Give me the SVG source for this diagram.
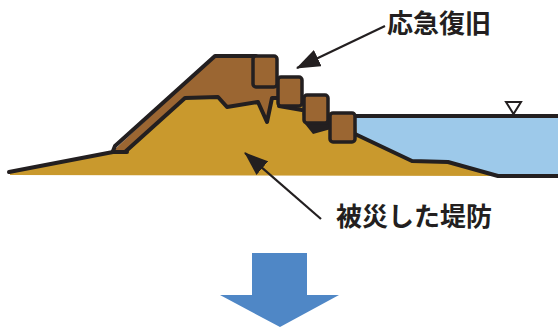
<svg xmlns="http://www.w3.org/2000/svg" width="558" height="329" viewBox="0 0 558 329">
  <style>
    .line { fill: none; stroke: #231F20; stroke-width: 4; stroke-linejoin: round; stroke-linecap: round; }
    .block { fill: #9B6632; stroke: #231F20; stroke-width: 3.5; }
    .label { font-family: "Noto Sans CJK JP", "Noto Sans", sans-serif; font-weight: bold; font-size: 26px; fill: #231F20; }
    .pointer { stroke: #231F20; stroke-width: 2.2; fill: none; }
  </style>
  <defs>
    <marker id="head" viewBox="0 0 24 18" refX="23" refY="9" markerWidth="24" markerHeight="18" markerUnits="userSpaceOnUse" orient="auto">
      <path d="M0,0 L24,9 L0,18 z" fill="#231F20"/>
    </marker>
  </defs>
  <rect width="558" height="329" fill="#FFFFFF"/>

  <!-- river water -->
  <g id="water">
    <polygon points="355,116 558,116 558,176 498,176 448,162 412,161 357,134" fill="#9DC9EA"/>
    <path class="line" d="M355,116 L558,116"/>
    <polygon points="506,102 521,102 513.5,114" fill="#FFFFFF" stroke="#231F20" stroke-width="2"/>
  </g>

  <!-- damaged levee body -->
  <g id="levee">
    <polygon points="10,173 113,152 215,56 278,56 278,77 302,77 302,95 328,95 328,112 355,112 357,134 412,161 448,162 498,176 10,175" fill="#C9992D"/>
    <polygon points="114,150 215,56 253,56 253,87 279,87 279,98 272,98 267,122 258,102 227,107 218,97 185,98 127,152" fill="#9B6632"/>
    <polygon points="301,108 305,124 313,134 331,129 331,118 304,118" fill="#231F20"/>
    <path class="line" d="M9,172 L113,152 L127,152"/>
    <path class="line" d="M113,151 L115,146 L215,56 L256,56"/>
    <path class="line" d="M125,152 L185,98 L218,97 L227,107 L258,102 L267,122 L272,98 L280,98"/>
    <path class="line" d="M279,106 L302,110"/>
    <path class="line" d="M355,134 L412,161 L448,162 L498,176 L558,176"/>
  </g>

  <!-- emergency repair blocks -->
  <g id="blocks">
    <rect class="block" x="253" y="56" width="24" height="31" rx="3"/>
    <rect class="block" x="278" y="77" width="24" height="29" rx="3"/>
    <rect class="block" x="304" y="95" width="24" height="28" rx="3"/>
    <rect class="block" x="330" y="113" width="25" height="29" rx="3"/>
  </g>

  <!-- callouts -->
  <g id="connectors">
    <line class="pointer" x1="385" y1="26" x2="297" y2="68" marker-end="url(#head)"/>
    <line class="pointer" x1="321" y1="219" x2="245" y2="153" marker-end="url(#head)"/>
  </g>
  <g id="label-repair">
    <text class="label" x="387" y="33">応急復旧</text>
  </g>
  <g id="label-damaged">
    <text class="label" x="336" y="226">被災した堤防</text>
  </g>

  <!-- down arrow -->
  <g id="down-arrow">
    <polygon points="252,253 307,253 307,295 339,295 280,327 220,295 252,295" fill="#4F87C6"/>
  </g>
</svg>
